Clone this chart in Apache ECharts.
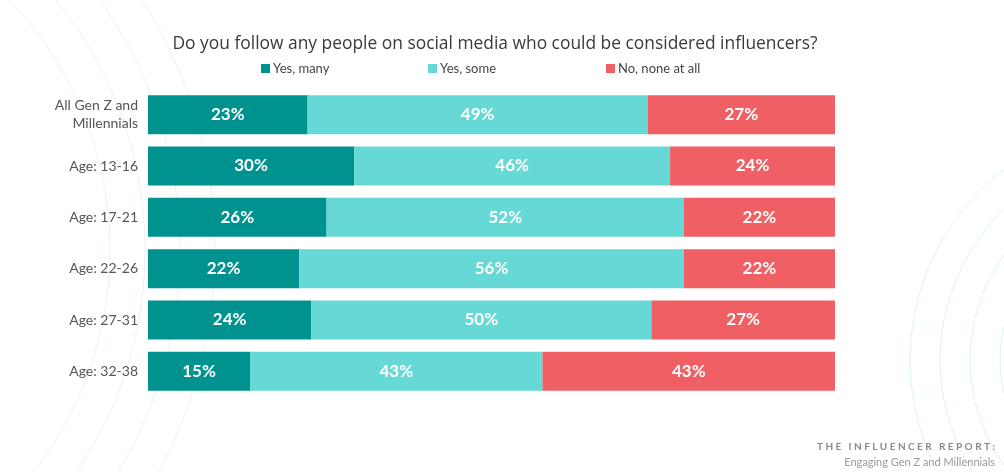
<!DOCTYPE html>
<html lang="en">
<head>
    <meta charset="UTF-8">
    <title>Influencers</title>
    <script src="https://cdn.jsdelivr.net/npm/echarts@6/dist/echarts.min.js"></script>
    <style>
        html, body { margin: 0; padding: 0; background: #fff; }
    </style>
</head>
<body>
<div id="chart" style="width:1004px;height:472px;"></div>
<script>
    var categories = ['All Gen Z and\nMillennials', 'Age: 13-16', 'Age: 17-21', 'Age: 22-26', 'Age: 27-31', 'Age: 32-38'];
    var yesMany = [23, 30, 26, 22, 24, 15];
    var yesSome = [49, 46, 52, 56, 50, 43];
    var noNone = [27, 24, 22, 22, 27, 43];
    var seriesNames = ['Yes, many', 'Yes, some', 'No, none at all'];
    var colors = ['#00928e', '#66d8d5', '#ef5f63'];

    var FONT = 'Lato, "Open Sans", sans-serif';

    // each bar fills the full row, labels keep the rounded figure
    function rowShare(values) {
        return values.map(function (v, i) {
            var total = yesMany[i] + yesSome[i] + noNone[i];
            return { value: v / total * 100, raw: v };
        });
    }

    var seriesData = [yesMany, yesSome, noNone];
    var series = seriesData.map(function (vals, k) {
        return {
            name: seriesNames[k],
            type: 'bar',
            stack: 'all',
            barWidth: '76%',
            itemStyle: { color: colors[k] },
            label: {
                show: true,
                position: 'inside',
                color: '#fff',
                fontFamily: FONT,
                fontWeight: 'bold',
                fontSize: 17,
                formatter: function (p) { return p.data.raw + '%'; }
            },
            data: rowShare(vals)
        };
    });

    // faint decorative arcs in the background
    var arcs = [];
    [360, 395, 430, 465].forEach(function (r) {
        arcs.push({
            type: 'circle', silent: true, z: -10,
            shape: { cx: -250, cy: 250, r: r },
            style: { fill: 'none', stroke: '#e3f4f3', lineWidth: 1 }
        });
    });
    [150, 180, 210, 240].forEach(function (r) {
        arcs.push({
            type: 'circle', silent: true, z: -10,
            shape: { cx: 1150, cy: 360, r: r },
            style: { fill: 'none', stroke: '#d9f5f4', lineWidth: 1 }
        });
    });

    var legendLefts = [256, 423, 601];
    var legends = seriesNames.map(function (n, i) {
        return {
            data: [n],
            left: legendLefts[i],
            top: 57,
            icon: 'rect',
            itemWidth: 9,
            itemHeight: 9,
            itemGap: 3,
            textStyle: { color: '#444', fontSize: 13, fontFamily: FONT, padding: [0, 0, 0, -2] }
        };
    });

    var chart = echarts.init(document.getElementById('chart'));
    chart.setOption({
        animation: false,
        title: {
            text: 'Do you follow any people on social media who could be considered influencers?',
            left: 490,
            textAlign: 'center',
            top: 31,
            textStyle: { color: '#3a3a3a', fontSize: 17.4, fontWeight: 'normal', fontFamily: '"Open Sans", sans-serif' }
        },
        legend: legends,
        grid: { left: 148, right: 169, top: 89, bottom: 75 },
        xAxis: {
            type: 'value',
            min: 0,
            max: 100,
            show: false
        },
        yAxis: {
            type: 'category',
            inverse: true,
            data: categories,
            axisLine: { show: false },
            axisTick: { show: false },
            axisLabel: {
                color: '#555',
                fontSize: 14,
                fontFamily: FONT,
                margin: 10,
                lineHeight: 18
            }
        },
        series: series,
        graphic: arcs.concat([
            {
                type: 'text', right: 9, top: 442,
                style: {
                    text: 'T H E   I N F L U E N C E R   R E P O R T :',
                    fill: '#8a8a8a', font: 'bold 10px ' + FONT, textAlign: 'right'
                }
            },
            {
                type: 'text', right: 9, top: 457,
                style: {
                    text: 'Engaging Gen Z and Millennials',
                    fill: '#999', font: '11px ' + FONT, textAlign: 'right'
                }
            }
        ])
    });
</script>
</body>
</html>
